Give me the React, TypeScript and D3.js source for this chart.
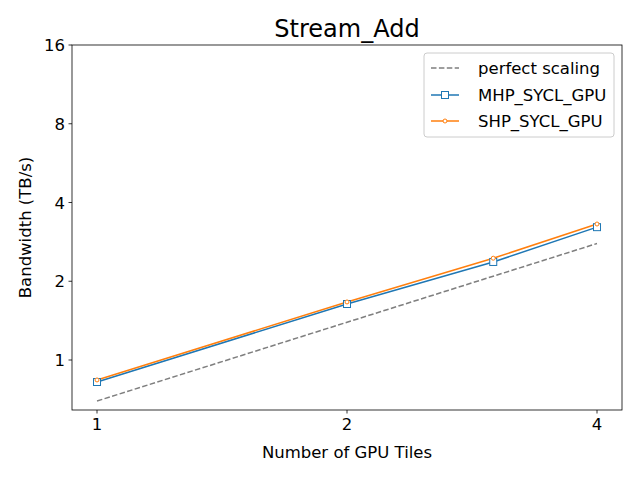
import React from "react";
import * as d3 from "d3";

const tiles = [1, 2, 3, 4];
const perfect = [0.697, 1.394, 2.091, 2.788];
const mhp = [0.824, 1.637, 2.37, 3.22];
const shp = [0.839, 1.667, 2.45, 3.31];
const xTicks = [1, 2, 4];
const yTicks = [1, 2, 4, 8, 16];

export default function App() {
  const W = 640, H = 480, L = 72, R = 622, T = 45, B = 410;
  const x = d3.scaleLog().base(2).domain([0.933, 4.287]).range([L, R]);
  const y = d3.scaleLog().base(2).domain([0.644, 16]).range([B, T]);
  const line = (v: number[]) =>
    d3.line<number>().x((_, i) => x(tiles[i])).y((d) => y(d))(v) || "";
  const font = "DejaVu Sans, sans-serif";
  const fs = 16.5;
  return (
    <svg width={W} height={H} style={{ position: "absolute", left: 0, top: 0 }} fontFamily={font}>
      <rect width={W} height={H} fill="white" />
      <text x={(L + R) / 2} y={37} textAnchor="middle" fontSize={24}>Stream_Add</text>
      <path d={line(perfect)} fill="none" stroke="#7f7f7f" strokeWidth={1.5} strokeDasharray="5.5,2.4" />
      <path d={line(mhp)} fill="none" stroke="#1f77b4" strokeWidth={1.5} />
      <path d={line(shp)} fill="none" stroke="#ff7f0e" strokeWidth={1.5} />
      {mhp.map((v, i) => (
        <rect key={"m" + i} x={x(tiles[i]) - 3.5} y={y(v) - 3.5} width={7} height={7} fill="white" stroke="#1f77b4" strokeWidth={1} />
      ))}
      {shp.map((v, i) => (
        <circle key={"s" + i} cx={x(tiles[i])} cy={y(v)} r={2} fill="white" stroke="#ff7f0e" strokeWidth={1} />
      ))}
      <rect x={L} y={T} width={R - L} height={B - T} fill="none" stroke="black" strokeWidth={0.8} />
      {xTicks.map((t) => (
        <g key={"x" + t}>
          <line x1={x(t)} x2={x(t)} y1={B} y2={B + 3.5} stroke="black" strokeWidth={0.8} />
          <text x={x(t)} y={B + 20} textAnchor="middle" fontSize={fs}>{t}</text>
        </g>
      ))}
      {yTicks.map((t) => (
        <g key={"y" + t}>
          <line x1={L - 3.5} x2={L} y1={y(t)} y2={y(t)} stroke="black" strokeWidth={0.8} />
          <text x={L - 7} y={y(t) + 6} textAnchor="end" fontSize={fs}>{t}</text>
        </g>
      ))}
      <text x={(L + R) / 2} y={458} textAnchor="middle" fontSize={fs}>Number of GPU Tiles</text>
      <text transform={`translate(31,${(T + B) / 2}) rotate(-90)`} textAnchor="middle" fontSize={fs}>Bandwidth (TB/s)</text>
      <g>
        <rect x={424} y={53} width={190} height={84} rx={3} fill="white" fillOpacity={0.8} stroke="#cccccc" />
        <line x1={431} x2={459} y1={68} y2={68} stroke="#7f7f7f" strokeWidth={1.5} strokeDasharray="5.5,2.4" />
        <text x={478} y={74} fontSize={fs}>perfect scaling</text>
        <line x1={431} x2={459} y1={95} y2={95} stroke="#1f77b4" strokeWidth={1.5} />
        <rect x={441.5} y={91.5} width={7} height={7} fill="white" stroke="#1f77b4" />
        <text x={478} y={101} fontSize={fs}>MHP_SYCL_GPU</text>
        <line x1={431} x2={459} y1={121} y2={121} stroke="#ff7f0e" strokeWidth={1.5} />
        <circle cx={445} cy={121} r={2} fill="white" stroke="#ff7f0e" />
        <text x={478} y={127} fontSize={fs}>SHP_SYCL_GPU</text>
      </g>
    </svg>
  );
}
